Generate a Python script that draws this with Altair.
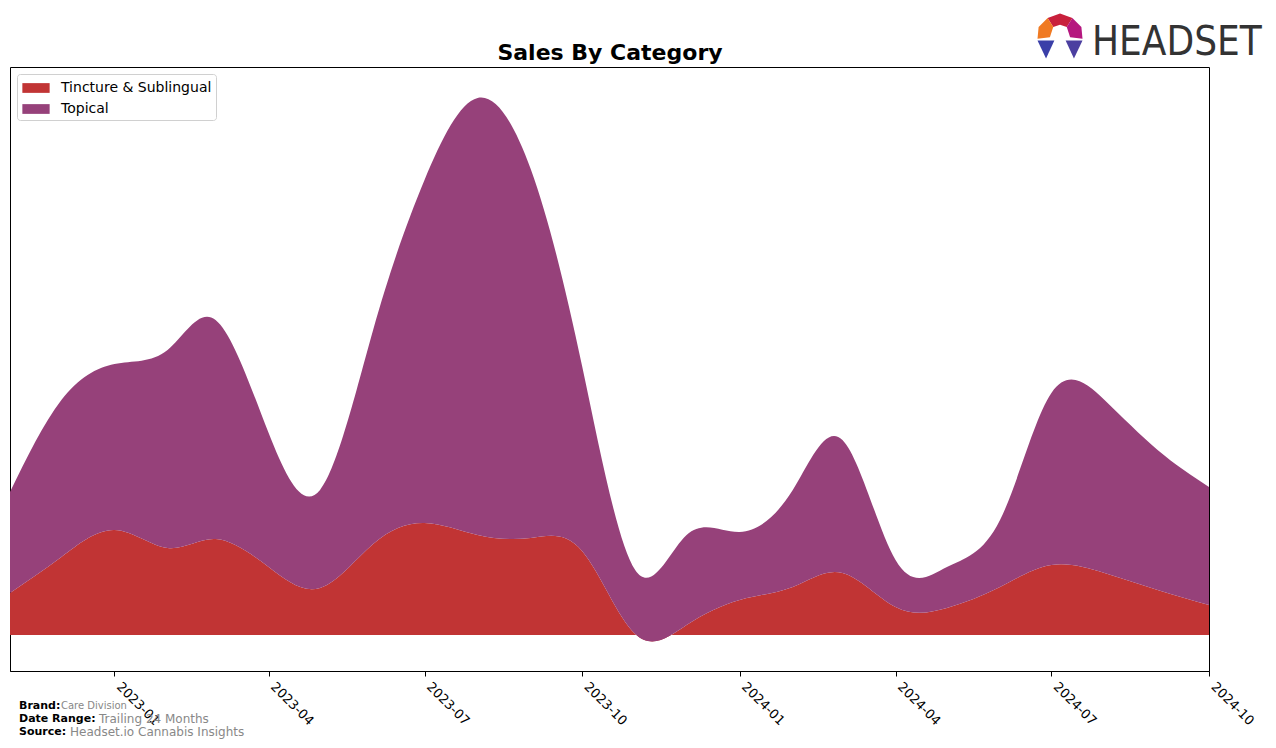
import altair as alt
import pandas as pd

months = ["2022-11-01", "2022-12-01", "2023-01-01", "2023-02-01", "2023-03-01", "2023-04-01",
          "2023-05-01", "2023-06-01", "2023-07-01", "2023-08-01", "2023-09-01", "2023-10-01",
          "2023-11-01", "2023-12-01", "2024-01-01", "2024-02-01", "2024-03-01", "2024-04-01",
          "2024-05-01", "2024-06-01", "2024-07-01", "2024-08-01", "2024-09-01", "2024-10-01"]
tincture = [42, 78, 105, 87, 96, 68, 47, 91, 112, 100, 97, 84, 1, 10, 35, 48, 62, 28, 27, 48, 70, 62, 45, 30]
topical = [101, 157, 166, 198, 219, 134, 98, 214, 343, 437, 369, 185, 64, 90, 68, 97, 133, 47, 41, 67, 172, 173, 140, 118]
categories = ["Tincture & Sublingual", "Topical"]
colors = ["#C13434", "#96417A"]
tick_months = [(2023, 1), (2023, 4), (2023, 7), (2023, 10), (2024, 1), (2024, 4), (2024, 7), (2024, 10)]

rows = []
for i, m in enumerate(months):
    rows.append({"date": m, "cat": categories[0], "val": tincture[i], "ord": 0})
    rows.append({"date": m, "cat": categories[1], "val": topical[i], "ord": 1})
df = pd.DataFrame(rows)

legend_shape = "M-1.4,-0.5 L1.4,-0.5 L1.4,0.5 L-1.4,0.5 Z"

areas = alt.Chart(df).mark_area(interpolate="natural", opacity=1).encode(
    x=alt.X("date:T",
            scale=alt.Scale(type="utc", domain=[alt.DateTime(year=2022, month=11, date=1, utc=True),
                                                alt.DateTime(year=2024, month=10, date=1, utc=True)], nice=False),
            axis=alt.Axis(title=None,
                          labelExpr="utcFormat(datum.value, '%Y-%m')",
                          values=[alt.DateTime(year=y, month=mo, date=1, utc=True) for (y, mo) in tick_months],
                          labelAngle=45, labelAlign="left", labelBaseline="top",
                          labelFontSize=13, labelFont="DejaVu Sans", labelColor="black",
                          tickColor="black", tickSize=5, domainColor="black", grid=False,
                          labelPadding=4, labelOffset=8)),
    y=alt.Y("val:Q", stack="zero", scale=alt.Scale(domain=[-36, 568], nice=False, zero=False), axis=None),
    color=alt.Color("cat:N", scale=alt.Scale(domain=categories, range=colors),
                    legend=alt.Legend(title=None, orient="none", legendX=7, legendY=7, padding=4,
                                      strokeColor="#d0d0d0", fillColor="white", cornerRadius=3,
                                      labelFontSize=14, labelFont="DejaVu Sans", labelColor="black",
                                      symbolType=legend_shape, symbolSize=380, symbolStrokeWidth=0,
                                      symbolOpacity=1, rowPadding=4, labelOffset=15, symbolOffset=5)),
    order=alt.Order("ord:Q", sort="ascending"),
)

def txt(s, x, y, size, color, weight="normal", font="DejaVu Sans", align="left", baseline="middle"):
    return alt.Chart(pd.DataFrame({"t": [s]})).mark_text(
        align=align, baseline=baseline, fontSize=size, color=color, fontWeight=weight, font=font
    ).encode(x=alt.value(x), y=alt.value(y), text="t:N")

title = txt("Sales By Category", 600, -7, 22, "black", "bold", align="center", baseline="alphabetic")

footer = [
    txt("Brand:", 9, 639, 11, "black", "bold"),
    txt("Care Division", 51, 639, 10, "#888888"),
    txt("Date Range:", 9, 652, 11, "black", "bold"),
    txt("Trailing 24 Months", 89, 652, 12, "#888888"),
    txt("Source:", 9, 665, 11, "black", "bold"),
    txt("Headset.io Cannabis Insights", 60, 665, 12, "#888888"),
]

logo_text = txt("HEADSET", 1082, -12, 40, "#333333", "normal",
                "DejaVu Sans Condensed, Liberation Sans Narrow, Liberation Sans", baseline="alphabetic")

pieces = [
    ("M-0.55,-0.8 L0,-1 L0.55,-0.8 L0.3,-0.4 L0,-0.5 L-0.3,-0.4 Z", "#C8203C"),
    ("M-0.55,-0.8 L-0.3,-0.4 L-0.45,0.05 L-1,0.12 L-0.95,-0.4 Z", "#F07A22"),
    ("M0.55,-0.8 L0.95,-0.4 L1,0.12 L0.45,0.05 L0.3,-0.4 Z", "#B5177F"),
    ("M-1,0.2 L-0.25,0.2 L-0.62,1 Z", "#3A3FA8"),
    ("M0.25,0.2 L1,0.2 L0.62,1 Z", "#4B3FA0"),
]
logo_icon = [
    alt.Chart(pd.DataFrame({"t": [0]})).mark_point(shape=p, filled=True, color=c, size=2025, opacity=1, strokeWidth=0)
    .encode(x=alt.value(1050), y=alt.value(-31))
    for p, c in pieces
]

chart = alt.layer(areas, title, *footer, logo_text, *logo_icon).properties(
    width=1199, height=604,
    autosize=alt.AutoSizeParams(type="none"),
    padding={"left": 10, "top": 67, "right": 67, "bottom": 77},
).configure_view(stroke="black", strokeWidth=1)

chart.save("out.html", embed_options={"renderer": "svg", "actions": False})
